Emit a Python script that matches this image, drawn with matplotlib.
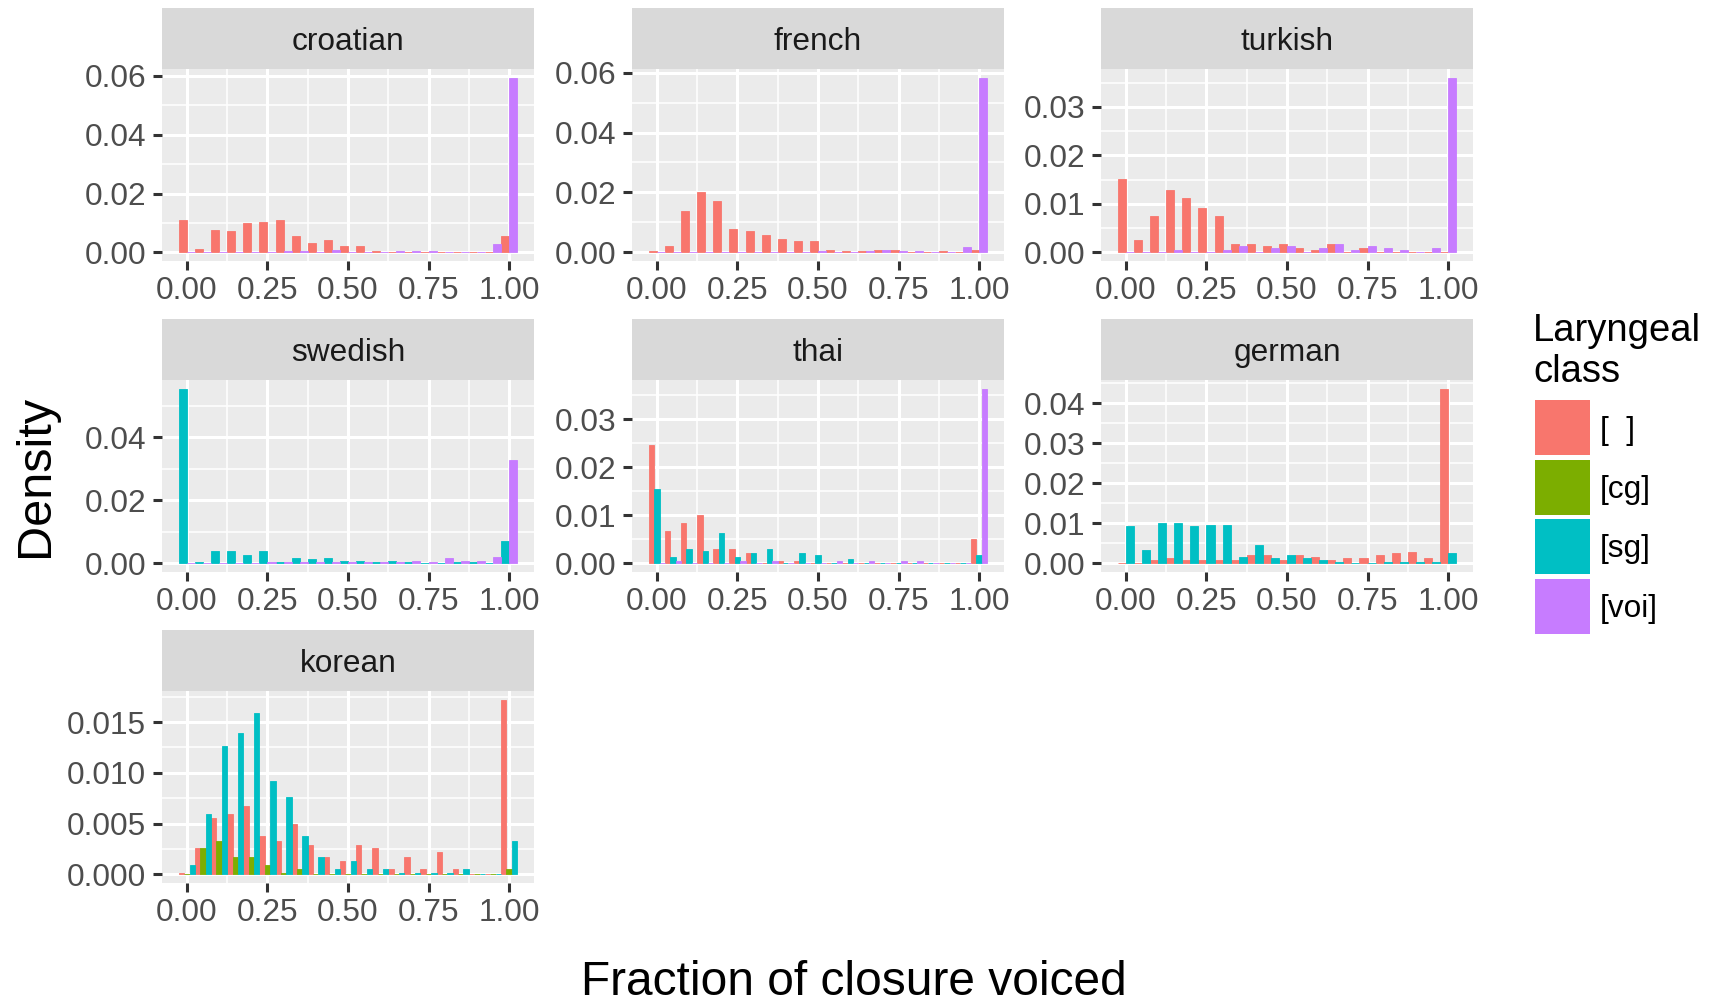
import numpy as np
import matplotlib
matplotlib.use("Agg")
import matplotlib.pyplot as plt
from matplotlib.ticker import MultipleLocator, FormatStrFormatter, FixedLocator
from matplotlib.patches import Rectangle

plt.rcParams['font.family'] = ['Liberation Sans', 'DejaVu Sans']

# ---------------------------------------------------------------- data
bin_centers = np.round(np.arange(21) * 0.05, 2)
bin_width = 0.05

class_names = ["[  ]", "[cg]", "[sg]", "[voi]"]
class_colors = ["#F8766D", "#7CAE00", "#00BFC4", "#C77CFF"]

croatian_plain = [0.0110, 0.0011, 0.0076, 0.0073, 0.0100, 0.0103, 0.0110, 0.0056, 0.0032, 0.0042, 0.0022,
                  0.0022, 0.0005, 0.0001, 0.0001, 0.0001, 0.0001, 0.0000, 0.0001, 0.0001, 0.0056]
croatian_voi = [0.0000, 0.0000, 0.0001, 0.0001, 0.0001, 0.0001, 0.0005, 0.0005, 0.0002, 0.0008, 0.0001,
                0.0001, 0.0002, 0.0005, 0.0005, 0.0005, 0.0001, 0.0001, 0.0001, 0.0028, 0.0594]

french_plain = [0.0004, 0.0021, 0.0138, 0.0201, 0.0171, 0.0078, 0.0071, 0.0058, 0.0045, 0.0038, 0.0038,
                0.0008, 0.0004, 0.0004, 0.0008, 0.0008, 0.0001, 0.0001, 0.0004, 0.0001, 0.0008]
french_voi = [0.0000, 0.0000, 0.0000, 0.0000, 0.0000, 0.0000, 0.0000, 0.0000, 0.0000, 0.0000, 0.0004,
              0.0001, 0.0001, 0.0004, 0.0008, 0.0004, 0.0004, 0.0001, 0.0001, 0.0018, 0.0583]

turkish_plain = [0.0151, 0.0025, 0.0075, 0.0129, 0.0112, 0.0092, 0.0075, 0.0017, 0.0017, 0.0013, 0.0017,
                 0.0009, 0.0005, 0.0017, 0.0001, 0.0009, 0.0001, 0.0001, 0.0001, 0.0001, 0.0001]
turkish_voi = [0.0001, 0.0001, 0.0001, 0.0005, 0.0001, 0.0001, 0.0005, 0.0013, 0.0001, 0.0009, 0.0013,
               0.0001, 0.0009, 0.0017, 0.0005, 0.0013, 0.0009, 0.0005, 0.0001, 0.0009, 0.0360]

swedish_sg = [0.0555, 0.0004, 0.0039, 0.0039, 0.0027, 0.0039, 0.0004, 0.0017, 0.0014, 0.0017, 0.0007,
              0.0007, 0.0004, 0.0007, 0.0004, 0.0001, 0.0001, 0.0004, 0.0004, 0.0001, 0.0071]
swedish_voi = [0.0001, 0.0001, 0.0001, 0.0001, 0.0001, 0.0004, 0.0004, 0.0004, 0.0004, 0.0004, 0.0004,
               0.0004, 0.0004, 0.0004, 0.0007, 0.0004, 0.0017, 0.0007, 0.0007, 0.0020, 0.0329]

thai_plain = [0.0247, 0.0067, 0.0084, 0.0101, 0.0030, 0.0030, 0.0022, 0.0001, 0.0005, 0.0005, 0.0001,
              0.0001, 0.0001, 0.0001, 0.0001, 0.0001, 0.0001, 0.0001, 0.0001, 0.0001, 0.0051]
thai_sg = [0.0155, 0.0013, 0.0030, 0.0026, 0.0063, 0.0013, 0.0022, 0.0030, 0.0001, 0.0022, 0.0017,
           0.0001, 0.0009, 0.0001, 0.0001, 0.0001, 0.0001, 0.0001, 0.0001, 0.0001, 0.0017]
thai_voi = [0.0000, 0.0005, 0.0000, 0.0000, 0.0000, 0.0005, 0.0000, 0.0005, 0.0000, 0.0001, 0.0000,
            0.0005, 0.0001, 0.0005, 0.0001, 0.0005, 0.0005, 0.0001, 0.0001, 0.0001, 0.0363]

german_plain = [0.0001, 0.0001, 0.0008, 0.0013, 0.0008, 0.0008, 0.0008, 0.0008, 0.0021, 0.0021, 0.0008,
                0.0021, 0.0016, 0.0008, 0.0013, 0.0013, 0.0021, 0.0026, 0.0028, 0.0013, 0.0436]
german_sg = [0.0093, 0.0033, 0.0101, 0.0101, 0.0093, 0.0096, 0.0096, 0.0016, 0.0046, 0.0013, 0.0021,
             0.0013, 0.0008, 0.0003, 0.0001, 0.0001, 0.0003, 0.0003, 0.0003, 0.0003, 0.0026]

korean_plain = [0.0001, 0.0026, 0.0055, 0.0059, 0.0067, 0.0038, 0.0033, 0.0050, 0.0029, 0.0017, 0.0013,
                0.0029, 0.0026, 0.0005, 0.0017, 0.0005, 0.0022, 0.0005, 0.0000, 0.0000, 0.0172]
korean_cg = [0.0000, 0.0026, 0.0033, 0.0017, 0.0017, 0.0009, 0.0001, 0.0005, 0.0000, 0.0000, 0.0000,
             0.0000, 0.0000, 0.0000, 0.0000, 0.0000, 0.0000, 0.0000, 0.0000, 0.0000, 0.0005]
korean_sg = [0.0009, 0.0059, 0.0126, 0.0139, 0.0159, 0.0092, 0.0076, 0.0038, 0.0017, 0.0005, 0.0013,
             0.0005, 0.0005, 0.0001, 0.0001, 0.0001, 0.0001, 0.0005, 0.0000, 0.0000, 0.0033]

languages = ["croatian", "french", "turkish", "swedish", "thai", "german", "korean"]
language_series = {
    "croatian": {"[  ]": croatian_plain, "[voi]": croatian_voi},
    "french": {"[  ]": french_plain, "[voi]": french_voi},
    "turkish": {"[  ]": turkish_plain, "[voi]": turkish_voi},
    "swedish": {"[sg]": swedish_sg, "[voi]": swedish_voi},
    "thai": {"[  ]": thai_plain, "[sg]": thai_sg, "[voi]": thai_voi},
    "german": {"[  ]": german_plain, "[sg]": german_sg},
    "korean": {"[  ]": korean_plain, "[cg]": korean_cg, "[sg]": korean_sg},
}
y_tick_steps = [0.02, 0.02, 0.01, 0.02, 0.01, 0.01, 0.005]
y_tick_formats = ["%.2f", "%.2f", "%.2f", "%.2f", "%.2f", "%.2f", "%.3f"]
x_ticks = [0.0, 0.25, 0.5, 0.75, 1.0]
x_tick_labels = ["0.00", "0.25", "0.50", "0.75", "1.00"]

x_title = "Fraction of closure voiced"
y_title = "Density"
legend_title = "Laryngeal\nclass"

# ---------------------------------------------------------------- layout (pixels)
W, H, DPI = 1717, 1002, 100
col_left = [162, 632, 1101]
row_top = [8, 319, 630]
panel_w, strip_h, panel_h = 372, 61, 192

PANEL_BG = "#EBEBEB"
STRIP_BG = "#D9D9D9"
SMALL_FS = 22.8


def px_rect(left, top, width, height):
    return [left / W, 1 - (top + height) / H, width / W, height / H]


fig = plt.figure(figsize=(W / DPI, H / DPI), dpi=DPI)
fig.patch.set_facecolor("white")

color_of = dict(zip(class_names, class_colors))
x_lo, x_hi = -bin_width / 2, 1 + bin_width / 2
x_pad = 0.05 * (x_hi - x_lo)

for idx, lang in enumerate(languages):
    r, c = divmod(idx, 3)
    left, top = col_left[c], row_top[r]

    # facet strip
    sax = fig.add_axes(px_rect(left, top, panel_w, strip_h))
    sax.set_facecolor(STRIP_BG)
    sax.set_xticks([])
    sax.set_yticks([])
    for sp in sax.spines.values():
        sp.set_visible(False)
    sax.text(0.5, 0.45, lang, ha="center", va="center", fontsize=SMALL_FS,
             color="#1A1A1A", transform=sax.transAxes)

    # panel
    ax = fig.add_axes(px_rect(left, top + strip_h, panel_w, panel_h))
    ax.set_facecolor(PANEL_BG)
    for sp in ax.spines.values():
        sp.set_visible(False)

    series = language_series[lang]
    k = len(series)
    sub_w = bin_width / k
    ymax = 0.0
    for i, (cls, vals) in enumerate(series.items()):
        vals = np.asarray(vals)
        ymax = max(ymax, vals.max())
        xs = bin_centers - bin_width / 2 + (i + 0.5) * sub_w
        col = color_of[cls]
        ax.bar(xs, vals, width=sub_w, color=col, edgecolor=col,
               linewidth=0.6, zorder=3)

    ax.set_xlim(x_lo - x_pad, x_hi + x_pad)
    ax.set_ylim(-0.05 * ymax, 1.05 * ymax)

    ax.xaxis.set_major_locator(FixedLocator(x_ticks))
    ax.set_xticklabels(x_tick_labels)
    ax.xaxis.set_minor_locator(MultipleLocator(0.125))
    step = y_tick_steps[idx]
    ax.yaxis.set_major_locator(MultipleLocator(step))
    ax.yaxis.set_minor_locator(MultipleLocator(step / 2))
    ax.yaxis.set_major_formatter(FormatStrFormatter(y_tick_formats[idx]))

    ax.set_axisbelow(True)
    ax.grid(which="major", color="white", linewidth=2.2, zorder=0)
    ax.grid(which="minor", color="white", linewidth=1.1, zorder=0)
    ax.tick_params(which="major", length=6.5, width=2.2, color="#333333",
                   labelsize=SMALL_FS, labelcolor="#4D4D4D")
    ax.tick_params(axis="y", which="major", pad=5)
    ax.tick_params(axis="x", which="major", pad=4)
    ax.tick_params(which="minor", length=0)

# ---------------------------------------------------------------- axis titles
fig.text(854 / W, 1 - 995 / H, x_title, ha="center", va="baseline",
         fontsize=34.5, color="black")
fig.text(35 / W, 1 - 476 / H, y_title, ha="center", va="center",
         rotation=90, fontsize=35, color="black")

# ---------------------------------------------------------------- legend
title_lines = legend_title.split("\n")
fig.text(1533 / W, 1 - 341 / H, title_lines[0], ha="left", va="baseline",
         fontsize=27.5, color="black")
fig.text(1533 / W, 1 - 382 / H, title_lines[1], ha="left", va="baseline",
         fontsize=27.5, color="black")
key_x, key_size, key_top0, key_gap = 1535, 55, 400, 59.5
for j, (name, col) in enumerate(zip(class_names, class_colors)):
    ktop = key_top0 + j * key_gap
    fig.add_artist(Rectangle((key_x / W, 1 - (ktop + key_size) / H),
                             key_size / W, key_size / H,
                             transform=fig.transFigure, facecolor=col,
                             edgecolor="none"))
    fig.text(1600 / W, 1 - (ktop + key_size / 2 + 3) / H, name, ha="left",
             va="center", fontsize=SMALL_FS, color="black")

fig.savefig("out.png", dpi=DPI, facecolor="white")
